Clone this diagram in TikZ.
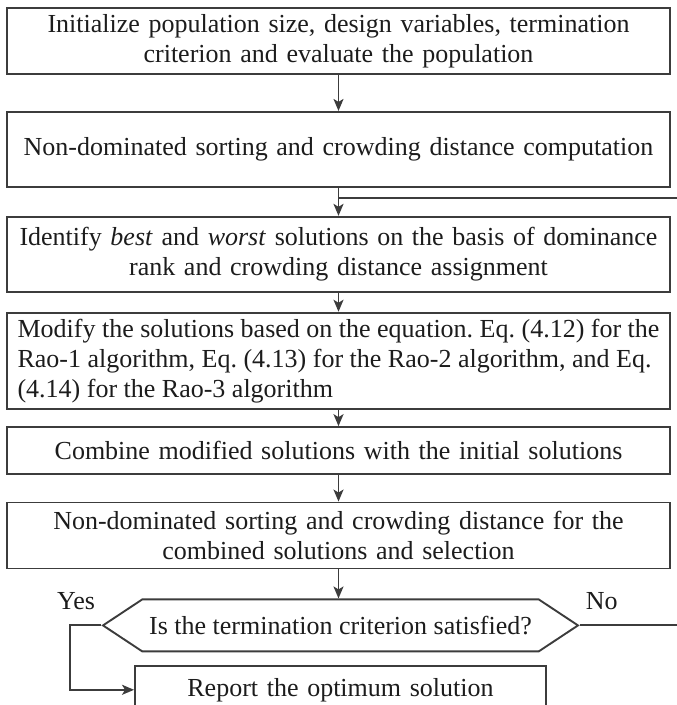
\documentclass[tikz,border=0pt]{standalone}
\usepackage{fontspec}
\setmainfont{Liberation Serif}
\frenchspacing
\usepackage{tikz}
\usetikzlibrary{arrows.meta,positioning,calc,shapes.symbols}
\definecolor{edgegray}{RGB}{60,60,60}
\definecolor{inkgray} {RGB}{28,28,28}
\tikzset{
  basebox/.style ={draw=edgegray, line width=1.9pt, text=inkgray,
                  minimum width=663pt, minimum height=#1,
                  font=\fontsize{26}{30}\selectfont, inner sep=1pt},
  basebox/.default=47pt,
  stepbox/.style ={basebox=#1, align=center, text width=650pt},
  stepbox/.default=47pt,
  leftbox/.style ={basebox=#1, align=left},
  checkbox/.style={draw=edgegray, line width=1.9pt, text=inkgray,
                  signal, signal to=west and east, signal pointer angle=67,
                  minimum width=475pt, minimum height=52pt,
                  font=\fontsize{26}{30}\selectfont, inner sep=2pt},
  endbox/.style  ={stepbox=47pt, minimum width=411pt, text width=400pt},
  lbl/.style     ={text=inkgray, inner sep=0pt, font=\fontsize{26}{30}\selectfont},
  arr/.style     ={-{Stealth[length=12pt,width=10pt,inset=3pt]}, draw=edgegray, line width=1.9pt},
  line/.style    ={draw=edgegray, line width=1.9pt},
}
\begin{document}
\begin{tikzpicture}[x=1pt,y=-1pt]
  \useasboundingbox (0,0) rectangle (677,705);
  \node[stepbox=66pt] (init) at (338.5,41)
    {Initialize population size, design variables, termination\\criterion and evaluate the population};
  \node[stepbox=75pt, below=36pt of init] (sort)
    {Non-dominated sorting and crowding distance computation};
  \node[stepbox=75pt, below=28pt of sort] (rank)
    {Identify \textit{best} and \textit{worst} solutions on the basis of dominance\\rank and crowding distance assignment};
  \node[leftbox=96pt, below=19pt of rank] (modify)
    {Modify the solutions based on the equation. Eq. (4.12) for the\\Rao-1 algorithm, Eq. (4.13) for the Rao-2 algorithm, and Eq.\\(4.14) for the Rao-3 algorithm};
  \node[stepbox=47pt, below=16.5pt of modify] (combine)
    {Combine modified solutions with the initial solutions};
  \node[stepbox=66pt, below=26.5pt of combine] (select)
    {Non-dominated sorting and crowding distance for the\\combined solutions and selection};
  \node[checkbox, below=29pt of select, xshift=2pt] (check)
    {Is the termination criterion satisfied?};
  \node[endbox, below=13pt of check] (report) {Report the optimum solution};
  \node[lbl, above left=15pt and 6pt of check.west] (yes) {Yes};
  \node[lbl, above right=15pt and 6pt of check.east] (no) {No};
  % main chain
  \draw[arr] (init) -- (sort);
  \draw[arr] (sort) -- (rank);
  \draw[arr] (rank) -- (modify);
  \draw[arr] (modify) -- (combine);
  \draw[arr] (combine) -- (select);
  \draw[arr] (select.south) -- (select.south |- check.north);
  % yes / no branches
  \draw[arr] (check.west) -- ++(-31,0) |- (report.west);
  \coordinate (loopin) at ($(sort.south)!0.35!(rank.north)$);
  \draw[line] (check.east) -- ++(110,0) coordinate (farR) |- (loopin);
\end{tikzpicture}
\end{document}
